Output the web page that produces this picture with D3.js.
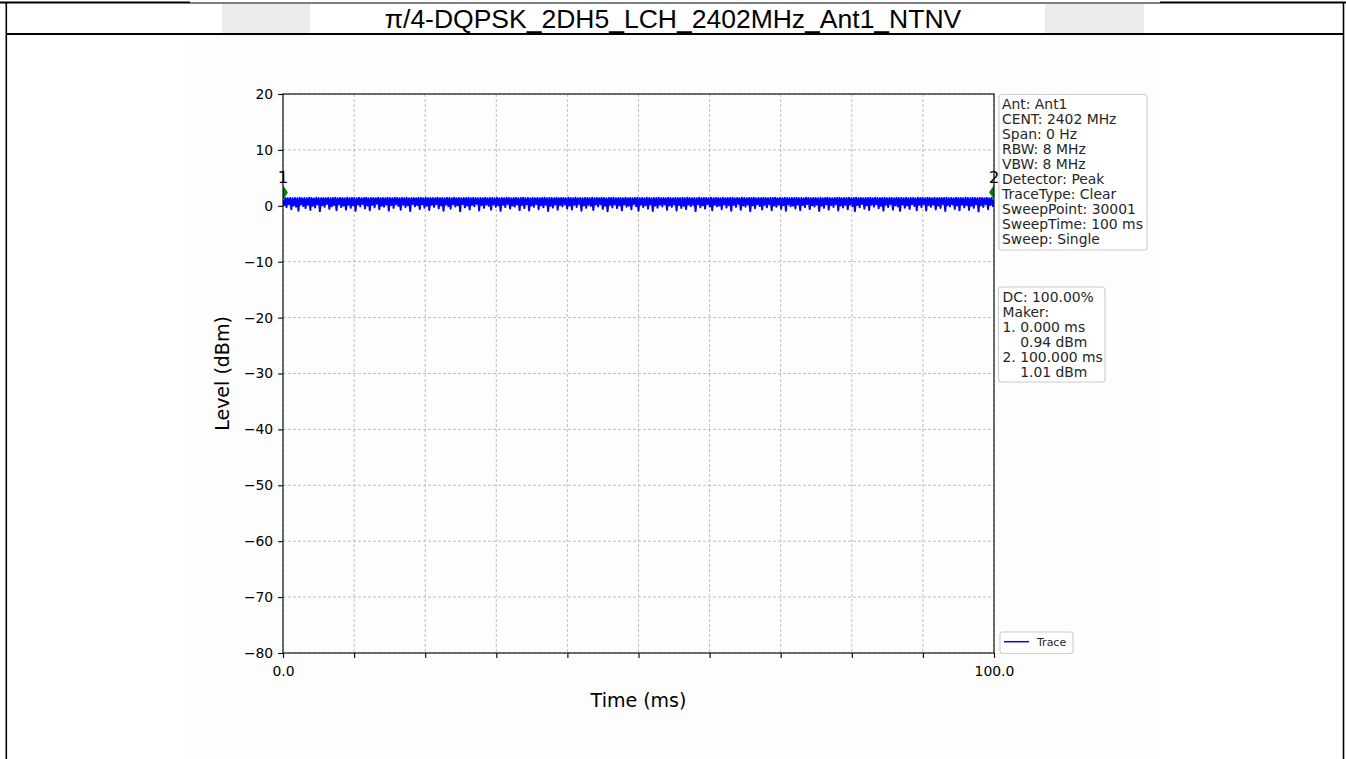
<!DOCTYPE html>
<html>
<head>
<meta charset="utf-8">
<script src="https://cdn.jsdelivr.net/npm/d3@7"></script>
<style>
  body { margin: 0; background: #fff; }
  svg { display: block; }
  text { white-space: pre; }
</style>
</head>
<body>
<svg id="chart" width="1346" height="759"></svg>
<script>
// ---- data -------------------------------------------------------------
const pageTitle = "π/4-DQPSK_2DH5_LCH_2402MHz_Ant1_NTNV";
const xLabel = "Time (ms)";
const yLabel = "Level (dBm)";
const timeSpan = [0, 100];          // ms
const levelSpan = [-80, 20];        // dBm
const xTicks = [0, 10, 20, 30, 40, 50, 60, 70, 80, 90, 100];
const xTickLabels = ["0.0", "", "", "", "", "", "", "", "", "", "100.0"];
const yTicks = [20, 10, 0, -10, -20, -30, -40, -50, -60, -70, -80];

const markerNames = ["1", "2"];
const markerTimes = [0, 100];       // ms
const markerLevels = [0.94, 1.01];  // dBm

const settingsLines = [
  "Ant: Ant1", "CENT: 2402 MHz", "Span: 0 Hz", "RBW: 8 MHz", "VBW: 8 MHz",
  "Detector: Peak", "TraceType: Clear", "SweepPoint: 30001",
  "SweepTime: 100 ms", "Sweep: Single"
];
const summaryLines = [
  "DC: 100.00%", "Maker:", "1. 0.000 ms", "    0.94 dBm",
  "2. 100.000 ms", "    1.01 dBm"
];
const legendLabels = ["Trace"];

// zero-span power trace (peak/min pairs across the sweep), dBm
const traceLevel = [
  0.94,0.12,1.42,-0.25,1.35,0.30,1.40,-0.62,1.33,0.05,1.41,-0.15,1.37,-0.88,1.44,0.22,1.36,-0.05,1.39,-0.41,
  1.34,0.18,1.43,-0.72,1.40,0.02,1.32,-0.30,1.45,0.26,1.38,-0.95,1.35,0.10,1.41,-0.18,1.37,0.33,1.42,-0.55,
  1.36,-0.08,1.39,0.15,1.44,-0.80,1.33,0.28,1.40,-0.22,1.38,0.04,1.35,-0.67,1.43,0.19,1.37,-0.35,1.41,0.08,
  1.39,-0.90,1.34,0.24,1.42,-0.12,1.36,0.31,1.40,-0.48,1.45,0.06,1.33,-0.78,1.38,0.17,1.41,-0.27,1.35,0.35,
  1.43,-0.60,1.37,0.01,1.40,-0.15,1.34,0.23,1.42,-0.85,1.39,0.11,1.36,-0.38,1.44,0.27,1.38,-0.02,1.35,-0.70,
  1.41,0.20,1.37,-0.25,1.43,0.09,1.33,-0.92,1.40,0.32,1.38,-0.10,1.36,0.14,1.42,-0.58,1.39,0.25,1.34,-0.33,
  1.44,0.03,1.36,-0.75,1.41,0.18,1.38,-0.20,1.35,0.29,1.43,-0.45,1.37,0.07,1.40,-0.87,1.34,0.21,1.42,-0.06,
  1.39,-0.52,1.35,0.26,1.44,-0.14,1.37,0.12,1.41,-0.97,1.33,0.30,1.40,-0.28,1.38,0.05,1.43,-0.64,1.36,0.16,
  1.42,-0.09,1.38,0.34,1.35,-0.82,1.41,0.13,1.37,-0.36,1.44,0.22,1.34,-0.01,1.40,-0.68,1.39,0.27,1.36,-0.19,
  1.43,0.08,1.37,-0.90,1.40,0.19,1.35,-0.23,1.42,0.31,1.38,-0.50,1.34,0.04,1.41,-0.13,1.39,0.24,1.36,-0.77,
  1.40,0.15,1.44,-0.40,1.36,0.28,1.38,-0.84,1.33,0.06,1.42,-0.17,1.37,0.32,1.41,-0.60,1.35,0.10,1.39,-0.26,
  1.43,0.21,1.36,-0.93,1.40,0.00,1.38,-0.31,1.34,0.25,1.45,-0.71,1.37,0.13,1.41,-0.08,1.39,0.29,1.35,-0.46,
  1.42,0.07,1.38,-0.66,1.36,0.20,1.44,-0.21,1.33,0.34,1.40,-0.89,1.37,0.09,1.41,-0.37,1.39,0.18,1.35,-0.03,
  1.43,-0.74,1.37,0.23,1.40,-0.11,1.36,0.30,1.42,-0.56,1.38,0.02,1.34,-0.96,1.41,0.16,1.39,-0.29,1.44,0.26,
  1.36,-0.43,1.40,0.11,1.38,-0.81,1.35,0.27,1.43,-0.16,1.37,0.05,1.41,-0.63,1.34,0.33,1.39,-0.07,1.42,-0.86,
  1.37,0.19,1.40,-0.24,1.36,0.12,1.44,-0.53,1.38,0.28,1.35,-0.91,1.41,0.03,1.39,-0.34,1.43,0.22,1.37,-0.12,
  1.40,0.30,1.34,-0.69,1.42,0.08,1.38,-0.19,1.36,0.25,1.41,-0.83,1.39,0.14,1.35,-0.39,1.44,0.01,1.37,-0.58,
  1.42,0.24,1.38,-0.06,1.35,0.17,1.40,-0.94,1.37,0.29,1.43,-0.27,1.36,0.10,1.41,-0.49,1.39,0.32,1.34,-0.14,
  1.44,-0.79,1.37,0.20,1.40,-0.09,1.38,0.04,1.35,-0.61,1.42,0.26,1.36,-0.32,1.41,0.13,1.39,-0.88,1.43,0.18,
  1.37,-0.20,1.40,0.35,1.36,-0.70,1.44,0.06,1.38,-0.15,1.35,0.23,1.41,-0.98,1.39,0.11,1.42,-0.42,1.37,0.27,
  1.40,-0.04,1.36,-0.65,1.43,0.19,1.38,-0.28,1.35,0.31,1.41,-0.80,1.39,0.07,1.44,-0.18,1.37,0.22,1.40,-0.54,
  1.36,0.14,1.42,-0.87,1.38,0.29,1.35,-0.10,1.41,0.03,1.39,-0.47,1.43,0.25,1.37,-0.76,1.40,0.16,1.34,-0.23,
  1.44,0.33,1.38,-0.59,1.36,0.09,1.41,-0.13,1.39,0.21,1.35,-0.92,1.42,0.02,1.37,-0.35,1.40,0.28,1.43,-0.68,
  1.37,0.12,1.35,-0.21,1.41,0.30,1.39,-0.83,1.44,0.05,1.36,-0.30,1.40,0.18,1.38,-0.62,1.42,0.24,1.35,-0.07,
  1.39,-0.95,1.43,0.15,1.37,-0.26,1.40,0.32,1.36,-0.51,1.41,0.08,1.38,-0.73,1.44,0.20,1.35,-0.16,1.42,0.27,
  1.38,-0.44,1.36,0.01,1.40,-0.86,1.43,0.17,1.37,-0.22,1.39,0.34,1.41,-0.67,1.35,0.10,1.42,-0.11,1.38,-0.90,
  1.40,0.23,1.37,-0.33,1.44,0.07,1.36,-0.57,1.41,0.26,1.39,-0.02,1.35,-0.78,1.43,0.19,1.38,-0.25,1.40,0.31,
  1.36,-0.84,1.42,0.13,1.39,-0.17,1.37,0.22,1.44,-0.64,1.35,0.04,1.41,-0.38,1.38,0.29,1.40,-0.93,1.43,0.11,
  1.37,-0.12,1.39,0.25,1.36,-0.55,1.42,0.06,1.38,-0.81,1.41,0.20,1.35,-0.29,1.44,0.15,1.40,-0.72,1.37,0.02,
  1.43,-0.37,1.38,0.27,1.36,-0.99,1.41,0.09,1.39,-0.20,1.35,0.30,1.42,-0.61,1.37,0.16,1.40,-0.05,1.01
];

// ---- layout -----------------------------------------------------------
const W = 1346, H = 759;
const plot = { left: 283, right: 994, top: 94, bottom: 653 };
const tickFont = "DejaVu Sans, sans-serif";

const svg = d3.select("#chart");

// report frame: header cell with title, body cell holding the plot image
svg.append("rect").attr("x", 190).attr("y", 35).attr("width", 970).attr("height", H - 35)
  .attr("fill", "#fdfdfd");
svg.append("rect").attr("x", 222).attr("y", 4).attr("width", 88).attr("height", 29).attr("fill", "#ebebeb");
svg.append("rect").attr("x", 1045).attr("y", 4).attr("width", 99).attr("height", 29).attr("fill", "#ebebeb");

const frame = svg.append("g").attr("stroke", "#000").attr("fill", "none");
frame.append("line").attr("x1", 0).attr("x2", 190).attr("y1", 2.5).attr("y2", 2.5).attr("stroke-width", 2);
frame.append("line").attr("x1", 190).attr("x2", 1160).attr("y1", 3).attr("y2", 3).attr("stroke-width", 1);
frame.append("line").attr("x1", 1160).attr("x2", W).attr("y1", 2.5).attr("y2", 2.5).attr("stroke-width", 2);
frame.append("line").attr("x1", 6.3).attr("x2", 6.3).attr("y1", 2).attr("y2", H).attr("stroke-width", 1.6);
frame.append("line").attr("x1", 1343.5).attr("x2", 1343.5).attr("y1", 2).attr("y2", H).attr("stroke-width", 1.6);
frame.append("line").attr("x1", 6).attr("x2", 1344).attr("y1", 34).attr("y2", 34).attr("stroke-width", 2);

svg.append("text").attr("x", 673).attr("y", 27.5).attr("text-anchor", "middle")
  .attr("font-family", "Liberation Sans, Arial, sans-serif").attr("font-size", 26.5)
  .attr("fill", "#000").text(pageTitle);

// ---- scales & axes ----------------------------------------------------
const x = d3.scaleLinear().domain(timeSpan).range([plot.left, plot.right]);
const y = d3.scaleLinear().domain(levelSpan).range([plot.bottom, plot.top]);

// grid
const grid = svg.append("g").attr("stroke", "#b0b0b0").attr("stroke-width", 0.8)
  .attr("stroke-dasharray", "3,2");
grid.selectAll("line.v").data(xTicks).join("line").attr("class", "v")
  .attr("x1", d => x(d)).attr("x2", d => x(d)).attr("y1", plot.top).attr("y2", plot.bottom);
grid.selectAll("line.h").data(yTicks).join("line").attr("class", "h")
  .attr("x1", plot.left).attr("x2", plot.right).attr("y1", d => y(d)).attr("y2", d => y(d));

// clip to the axes area
svg.append("clipPath").attr("id", "plotClip").append("rect")
  .attr("x", plot.left).attr("y", plot.top)
  .attr("width", plot.right - plot.left).attr("height", plot.bottom - plot.top);

// trace
const step = (timeSpan[1] - timeSpan[0]) / (traceLevel.length - 1);
const line = d3.line().x((d, i) => x(timeSpan[0] + i * step)).y(d => y(d));
svg.append("path").attr("clip-path", "url(#plotClip)")
  .attr("d", line(traceLevel)).attr("fill", "none")
  .attr("stroke", "#0000ff").attr("stroke-width", 2).attr("stroke-linejoin", "round");

// markers: thin diamonds drawn just above the trace point
const markerLift = 8;
const mk = svg.append("g").attr("clip-path", "url(#plotClip)");
markerTimes.forEach((t, i) => {
  const cx = x(t), cy = y(markerLevels[i]) - markerLift;
  mk.append("path")
    .attr("d", `M${cx},${cy - 7}L${cx + 5},${cy}L${cx},${cy + 7}L${cx - 5},${cy}Z`)
    .attr("fill", "#008000");
});
markerTimes.forEach((t, i) => {
  svg.append("text").attr("x", x(t)).attr("y", y(markerLevels[i]) - 17.3)
    .attr("text-anchor", "middle").attr("font-family", tickFont).attr("font-size", 16.7)
    .attr("fill", "#000").text(markerNames[i]);
});

// axes
const xAxis = d3.axisBottom(x).tickValues(xTicks).tickSize(4.9).tickPadding(4.9)
  .tickFormat((d, i) => xTickLabels[i]);
const yAxis = d3.axisLeft(y).tickValues(yTicks).tickSize(4.9).tickPadding(4.9)
  .tickFormat(d3.format("d"));

const gx = svg.append("g").attr("transform", `translate(0,${plot.bottom})`).call(xAxis);
const gy = svg.append("g").attr("transform", `translate(${plot.left},0)`).call(yAxis);
[gx, gy].forEach(g => {
  g.select(".domain").remove();
  g.selectAll(".tick line").attr("stroke", "#000").attr("stroke-width", 1.1);
  g.selectAll(".tick text").attr("font-family", tickFont).attr("font-size", 13.9).attr("fill", "#000");
});
gx.selectAll(".tick text").attr("dy", "0.95em");

// spines
svg.append("rect").attr("x", plot.left).attr("y", plot.top)
  .attr("width", plot.right - plot.left).attr("height", plot.bottom - plot.top)
  .attr("fill", "none").attr("stroke", "#000").attr("stroke-width", 1.1);

// axis titles
svg.append("text").attr("x", (plot.left + plot.right) / 2).attr("y", 707)
  .attr("text-anchor", "middle").attr("font-family", tickFont).attr("font-size", 19)
  .attr("fill", "#000").text(xLabel);
svg.append("text").attr("transform", `translate(229,${(plot.top + plot.bottom) / 2}) rotate(-90)`)
  .attr("text-anchor", "middle").attr("font-family", tickFont).attr("font-size", 19)
  .attr("fill", "#000").text(yLabel);

// ---- text boxes -------------------------------------------------------
function textBox(lines, bx, by, bw, bh, tx, firstBaseline, lineStep) {
  const g = svg.append("g");
  g.append("rect").attr("x", bx).attr("y", by).attr("width", bw).attr("height", bh)
    .attr("rx", 3).attr("fill", "#fff").attr("fill-opacity", 0.8)
    .attr("stroke", "#cccccc").attr("stroke-width", 1.1);
  g.selectAll("text").data(lines).join("text")
    .attr("x", tx).attr("y", (d, i) => firstBaseline + i * lineStep)
    .attr("font-family", tickFont).attr("font-size", 13.9).attr("fill", "#262626")
    .text(d => d);
}
textBox(settingsLines, 999, 94.5, 148, 155.5, 1002, 108.5, 15.07);
textBox(summaryLines, 998.5, 287, 106.5, 95, 1002.5, 301.5, 15.07);

// legend
const lg = svg.append("g");
lg.append("rect").attr("x", 1000).attr("y", 632).attr("width", 73).attr("height", 21.5)
  .attr("rx", 3).attr("fill", "#fff").attr("fill-opacity", 0.8)
  .attr("stroke", "#cccccc").attr("stroke-width", 1.1);
lg.append("line").attr("x1", 1004).attr("x2", 1029).attr("y1", 641.7).attr("y2", 641.7)
  .attr("stroke", "#0000ff").attr("stroke-width", 1.5);
lg.append("text").attr("x", 1037).attr("y", 645.8).attr("font-family", tickFont)
  .attr("font-size", 11).attr("fill", "#262626").text(legendLabels[0]);
</script>
</body>
</html>
